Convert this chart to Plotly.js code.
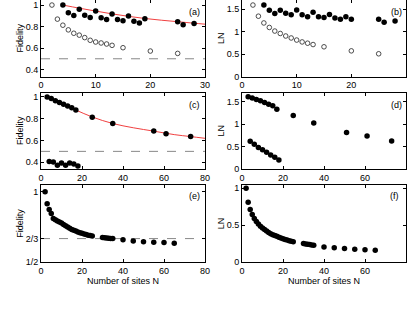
<!DOCTYPE html>
<html><head><meta charset="utf-8">
<script src="https://cdn.plot.ly/plotly-3.0.1.min.js"></script>
<style>html,body{margin:0;padding:0;background:#fff}#c{width:411px;height:309px}</style>
</head><body><div id="c"></div>
<script>
// ---- data ----
const nA_filled = [4,5,6,7,8,9,10,11,12,13,14,15,16,17,18,19,25,26,28];
const fA_filled = [1.0,0.928,0.903,0.96,0.906,0.884,0.944,0.881,0.866,0.916,0.866,0.853,0.897,0.85,0.834,0.872,0.844,0.816,0.828];
const nA_open = [2,3,4,5,6,7,8,9,10,11,12,13,15,20,25];
const fA_open = [1.0,0.869,0.8125,0.769,0.7375,0.72,0.697,0.672,0.656,0.647,0.6375,0.625,0.603,0.572,0.55];
const nA_fit = [4,7,10,13,16,19,22,25,28,30];
const fA_fit = [1.0,0.971,0.944,0.918,0.895,0.875,0.859,0.845,0.831,0.822];

const nB_filled = [4,5,6,7,8,9,10,11,12,13,14,15,16,17,18,19,20,25,26,28];
const lnB_filled = [1.588,1.47,1.40,1.47,1.405,1.37,1.478,1.37,1.33,1.427,1.33,1.31,1.376,1.30,1.273,1.33,1.273,1.273,1.207,1.236];
const nB_open = [2,3,4,5,6,7,8,9,10,11,12,13,15,20,25];
const lnB_open = [1.588,1.34,1.19,1.09,1.01,0.956,0.90,0.856,0.81,0.768,0.74,0.71,0.66,0.57,0.505];

const nC_odd = [3,5,7,9,11,13,15,17,25,35,55,61,73];
const fC_odd = [1.0,0.985,0.966,0.948,0.933,0.917,0.902,0.88,0.814,0.755,0.688,0.663,0.636];
const nC_even = [4,6,8,10,12,14,16,18];
const fC_even = [0.406,0.403,0.372,0.394,0.372,0.394,0.385,0.366];
const nC_fit = [3,10,17,25,35,45,55,65,73,80];
const fC_fit = [1.0,0.94,0.88,0.816,0.756,0.717,0.686,0.654,0.636,0.62];

const nD_odd = [3,5,7,9,11,13,15,17,25,35,51,61,73];
const lnD_odd = [1.604,1.58,1.545,1.515,1.478,1.44,1.403,1.33,1.19,1.025,0.81,0.735,0.623];
const nD_even = [4,6,8,10,12,14,16,18];
const lnD_even = [0.616,0.55,0.48,0.43,0.37,0.31,0.26,0.20];

const nEF = [2,3,4,5,6,7,8,9,10,11,12,13,14,15,16,17,18,19,20,21,22,23,24,25,30,31,32,33,34,35,40,45,50,55,60,65];
const fE = [1.0,0.914,0.874,0.845,0.81,0.80,0.792,0.784,0.777,0.767,0.758,0.749,0.74,0.732,0.726,0.72,0.714,0.709,0.704,0.699,0.695,0.691,0.688,0.685,0.674,0.672,0.671,0.669,0.668,0.667,0.658,0.65,0.645,0.641,0.638,0.634];
const lnF = [1.0,0.81,0.714,0.645,0.59,0.55,0.515,0.485,0.46,0.44,0.42,0.40,0.385,0.37,0.36,0.35,0.335,0.325,0.315,0.305,0.297,0.29,0.283,0.276,0.25,0.245,0.24,0.236,0.232,0.228,0.205,0.193,0.182,0.172,0.165,0.158];

const classicalF = 0.5;
const cloningF = 2/3;
const panelLabels = ['(a)','(b)','(c)','(d)','(e)','(f)'];

// ---- styles ----
const FONT = {family:'Liberation Sans, Arial, sans-serif', size:9, color:'#000'};
const filled = {color:'#000', size:5.5};
const openM = {color:'rgba(0,0,0,0)', size:4.6, line:{color:'#222', width:0.8}};
const red = {color:'#f04040', width:1};
const dash = {color:'#888', width:1, dash:'dash'};

function pts(x,y,ax,marker){return {x:x,y:y,xaxis:'x'+ax,yaxis:'y'+ax,mode:'markers',type:'scatter',marker:marker,hoverinfo:'skip'};}
function line(x,y,ax,l,shape){return {x:x,y:y,xaxis:'x'+ax,yaxis:'y'+ax,mode:'lines',type:'scatter',line:Object.assign({shape:shape||'linear'},l),hoverinfo:'skip'};}

const data = [
  line([0,30],[classicalF,classicalF],'',dash),
  line(nA_fit,fA_fit,'',red,'spline'),
  pts(nA_open,fA_open,'',openM),
  pts(nA_filled,fA_filled,'',filled),
  pts(nB_open,lnB_open,'2',openM),
  pts(nB_filled,lnB_filled,'2',filled),
  line([0,80],[classicalF,classicalF],'3',dash),
  line(nC_fit,fC_fit,'3',red,'spline'),
  pts(nC_odd,fC_odd,'3',filled),
  pts(nC_even,fC_even,'3',filled),
  pts(nD_odd,lnD_odd,'4',filled),
  pts(nD_even,lnD_even,'4',filled),
  line([0,80],[cloningF,cloningF],'5',dash),
  pts(nEF,fE,'5',filled),
  pts(nEF,lnF,'6',filled)
];

const colL=[41/411,205/411], colR=[242/411,406/411];
const row1=[1-76.5/309,1], row2=[1-169/309,1-92.5/309], row3=[1-262/309,1-185/309];

function xa(dom,range,tv,anchor,title){
  const o={domain:dom,range:range,tickvals:tv,ticktext:tv.map(String),ticks:'inside',ticklen:3,tickcolor:'#000',
    showline:true,linecolor:'#000',linewidth:1,mirror:'ticks',showgrid:false,zeroline:false,anchor:anchor,
    tickfont:FONT,fixedrange:true};
  if(title) o.title={text:title,font:FONT,standoff:2};
  return o;
}
function ya(dom,range,tv,tt,anchor,title){
  return {domain:dom,range:range,tickvals:tv,ticktext:tt,ticks:'inside',ticklen:3,tickcolor:'#000',
    showline:true,linecolor:'#000',linewidth:1,mirror:'ticks',showgrid:false,zeroline:false,anchor:anchor,
    tickfont:FONT,fixedrange:true,title:{text:title,font:FONT,standoff:0}};
}

const ann = [];
const annPos = [[194,12],[396,12],[194,105],[396,105],[194,196],[394,196]];
panelLabels.forEach((t,i)=>ann.push({text:t,xref:'paper',yref:'paper',x:annPos[i][0]/411,y:1-annPos[i][1]/309,
  showarrow:false,font:FONT,xanchor:'center',yanchor:'middle'}));

const layout = {
  width:411,height:309,margin:{l:0,r:0,t:0,b:0},paper_bgcolor:'#fff',plot_bgcolor:'#fff',
  showlegend:false,font:FONT,annotations:ann,
  xaxis: xa(colL,[0,30],[0,10,20,30],'y'),
  yaxis: ya(row1,[0.335,1.047],[0.4,0.6,0.8,1],['0.4','0.6','0.8','1'],'x','Fidelity'),
  xaxis2: xa(colR,[0,30],[0,10,20,30],'y2'),
  yaxis2: ya(row1,[0,1.7],[0,0.5,1,1.5],['0','0.5','1','1.5'],'x2','LN'),
  xaxis3: xa(colL,[0,80],[0,20,40,60,80],'y3'),
  yaxis3: ya(row2,[0.338,1.041],[0.4,0.6,0.8,1],['0.4','0.6','0.8','1'],'x3','Fidelity'),
  xaxis4: xa(colR,[0,80],[0,20,40,60,80],'y4'),
  yaxis4: ya(row2,[0,1.7],[0,0.5,1,1.5],['0','0.5','1','1.5'],'x4','LN'),
  xaxis5: xa(colL,[0,80],[0,20,40,60,80],'y5','Number of sites N'),
  yaxis5: ya(row3,[0.5,1.048],[0.5,2/3,1],['1/2','2/3','1'],'x5','Fidelity'),
  xaxis6: xa(colR,[0,80],[0,20,40,60,80],'y6','Number of sites N'),
  yaxis6: ya(row3,[0,1.045],[0,0.5,1],['0','0.5','1'],'x6','LN')
};
Plotly.newPlot('c',data,layout,{staticPlot:true,displayModeBar:false});
</script></body></html>
